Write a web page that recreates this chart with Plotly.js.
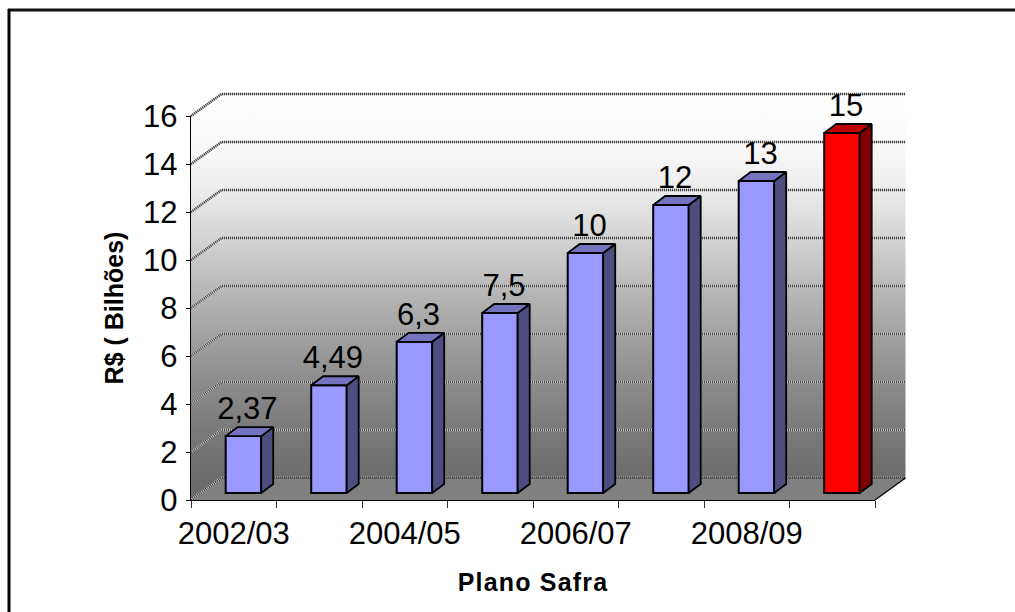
<!DOCTYPE html>
<html>
<head>
<meta charset="utf-8">
<script src="https://cdn.plot.ly/plotly-3.0.1.min.js"></script>
<style>html,body{margin:0;padding:0;background:#fff}#chart{width:1015px;height:612px}
.x2title{letter-spacing:1.2px}</style>
</head>
<body>
<div id="chart"></div>
<script>
const categories = ['2002/03','2003/04','2004/05','2005/06','2006/07','2007/08','2008/09','2009/10'];
const values = [2.37, 4.49, 6.3, 7.5, 10, 12, 13, 15];
const valueLabels = ['2,37','4,49','6,3','7,5','10','12','13','15'];
const shownCategories = ['2002/03','2004/05','2006/07','2008/09'];
const gridValues = [2,4,6,8,10,12,14,16];
const yTicks = [0,2,4,6,8,10,12,14,16];
const wallShades = ['#6c6c6c','#7a7a7a','#8c8c8c','#a2a2a2','#bababa','#d4d4d4','#ececec','#fafafa','#ffffff'];

const FONT = '"Liberation Sans", Arial, sans-serif';
const SLOT = 85.5, UNIT = 24;              // px per category / per value unit
const X0 = 191, Y0 = 500;                  // front-plane origin (px)
const L = 188, R = 908, T = 90, B = 503;   // wall subplot box (px)
const DX = 30.5/SLOT, DY = 22/UNIT;        // depth of the chart box
const BAR_DX = 9.7/SLOT, BAR_DY = 7/UNIT;  // bar front plane
const SIDE_DX = 12/SLOT, SIDE_DY = 9/UNIT; // bar depth
const BAR_W = 35.5/SLOT;
const xEnd = 8+DX, yEnd = 16+DY;

const xs = categories.map((c,i)=>i+0.5+BAR_DX);
const isRed = i => i === values.length-1;

function polys(idx, fn){
  const px=[],py=[];
  idx.forEach(i=>{ fn(i).forEach(q=>{px.push(q[0]);py.push(q[1]);}); px.push(null);py.push(null); });
  return {x:px,y:py};
}
function sideFace(i){
  const r=xs[i]+BAR_W/2, b=BAR_DY, t=BAR_DY+values[i];
  return [[r,b],[r+SIDE_DX,b+SIDE_DY],[r+SIDE_DX,t+SIDE_DY],[r,t],[r,b]];
}
function topFace(i){
  const l=xs[i]-BAR_W/2, r=xs[i]+BAR_W/2, t=BAR_DY+values[i];
  return [[l,t],[l+SIDE_DX,t+SIDE_DY],[r+SIDE_DX,t+SIDE_DY],[r,t],[l,t]];
}
const blue = categories.map((c,i)=>i).filter(i=>!isRed(i));
const red = categories.map((c,i)=>i).filter(isRed);
function facePoly(idx,fn,color){
  return Object.assign(polys(idx,fn),{type:'scatter',mode:'lines',fill:'toself',fillcolor:color,
    line:{color:'#000',width:1.8},xaxis:'x2',yaxis:'y2',hoverinfo:'skip',showlegend:false});
}
const gx=[],gy=[];
[0].concat(gridValues).forEach(v=>{ gx.push(0,DX,xEnd,null); gy.push(v,v+DY,v+DY,null); });
const skip={hoverinfo:'skip',showlegend:false};

const traces = [
  Object.assign({type:'scatter',mode:'lines',x:[0,DX,xEnd,xEnd,DX,0,0],y:[16,yEnd,yEnd,DY,DY,0,16],fill:'toself',
   fillgradient:{type:'vertical',start:DY,stop:yEnd,colorscale:wallShades.map((c,i)=>[i/(wallShades.length-1),c])},
   line:{width:0,color:'rgba(0,0,0,0)'}},skip),
  Object.assign({type:'scatter',mode:'lines',x:gx,y:gy,line:{color:'#d8d8d8',width:2.6}},skip),
  Object.assign({type:'scatter',mode:'lines',x:gx,y:gy,line:{color:'#333',width:2.6,dash:'1px,1px'}},skip),
  Object.assign({type:'scatter',mode:'lines',x:[0,8,8+DX,DX,0],y:[0,0,DY,DY,0],fill:'toself',fillcolor:'#808080',
   line:{width:0,color:'rgba(0,0,0,0)'}},skip),
  Object.assign({type:'scatter',mode:'lines',x:[0,DX],y:[0,DY],line:{color:'#d8d8d8',width:2.6}},skip),
  Object.assign({type:'scatter',mode:'lines',x:[0,DX],y:[0,DY],line:{color:'#222',width:2.6,dash:'1px,1px'}},skip),
  Object.assign({type:'scatter',mode:'lines',x:[DX,xEnd],y:[DY,DY],line:{color:'#222',width:1,dash:'2px,1px'}},skip),
  Object.assign({type:'scatter',mode:'lines',x:[8,8+DX],y:[0,DY],line:{color:'#000',width:1.2}},skip),
  Object.assign({type:'scatter',mode:'text',x:xs.map(x=>x+4/SLOT),y:values.map(v=>v+BAR_DY+24.5/UNIT),text:valueLabels,
   textposition:'middle center',textfont:{family:FONT,size:31,color:'#000'}},skip),
  Object.assign({type:'bar',x:xs,y:values,base:BAR_DY,width:BAR_W,xaxis:'x2',yaxis:'y2',
   marker:{color:categories.map((c,i)=>isRed(i)?'#ff0000':'#9999ff'),line:{color:'#000',width:2}}},skip),
  facePoly(blue,sideFace,'#4d4d80'),
  facePoly(blue,topFace,'#7373bf'),
  facePoly(red,sideFace,'#800000'),
  facePoly(red,topFace,'#bf0000')
];

const W=1015,H=612;
const pw=R-L, ph=B-T;
const dx=v=>(v-L)/pw, dy=v=>(B-v)/ph;
const px=dx, py=dy;

const layout = {
  width:W,height:H,
  margin:{l:L,r:W-R,t:T,b:H-B,pad:0},
  paper_bgcolor:'#fff',plot_bgcolor:'rgba(0,0,0,0)',
  showlegend:false,barmode:'overlay',font:{family:FONT,color:'#000'},
  xaxis:{domain:[0,1],range:[(L-X0)/SLOT,(R-X0)/SLOT],visible:false,fixedrange:true},
  yaxis:{domain:[0,1],range:[(Y0-B)/UNIT,(Y0-T)/UNIT],visible:false,fixedrange:true},
  xaxis2:{anchor:'y2',domain:[dx(X0),dx(X0+8*SLOT)],range:[0,8],showgrid:false,zeroline:false,
    showline:true,linecolor:'#000',linewidth:1.4,
    tickmode:'array',
    tickvals:shownCategories.map(c=>categories.indexOf(c)+0.5),ticktext:shownCategories,
    ticks:'',tickfont:{family:FONT,size:31,color:'#000'},ticklabelstandoff:5,
    minor:{tickmode:'array',tickvals:[0,1,2,3,4,5,6,7,8],ticks:'outside',ticklen:7,tickwidth:1,tickcolor:'#333',showgrid:false},
    title:{text:'<b>Plano Safra</b>',font:{family:FONT,size:25,color:'#000'},standoff:24}},
  yaxis2:{anchor:'x2',domain:[dy(Y0),dy(Y0-16*UNIT)],range:[0,16],showgrid:false,zeroline:false,
    showline:true,linecolor:'#000',linewidth:1.4,
    tickmode:'array',tickvals:yTicks,ticktext:yTicks.map(String),
    ticks:'outside',ticklen:4,tickwidth:1,tickcolor:'#000',tickfont:{family:FONT,size:31,color:'#000'},ticklabelstandoff:2,
    title:{text:'<b>R$ ( Bilhões)</b>',font:{family:FONT,size:25,color:'#000'},standoff:12}},
  shapes:[
    {type:'line',xref:'paper',yref:'paper',x0:px(8),x1:px(W),y0:py(10),y1:py(10),line:{color:'#111',width:3}},
    {type:'line',xref:'paper',yref:'paper',x0:px(9),x1:px(9),y0:py(9),y1:py(H),line:{color:'#000',width:3}}
  ]
};
Plotly.newPlot('chart',traces,layout,{staticPlot:true,displayModeBar:false});
</script>
</body>
</html>
